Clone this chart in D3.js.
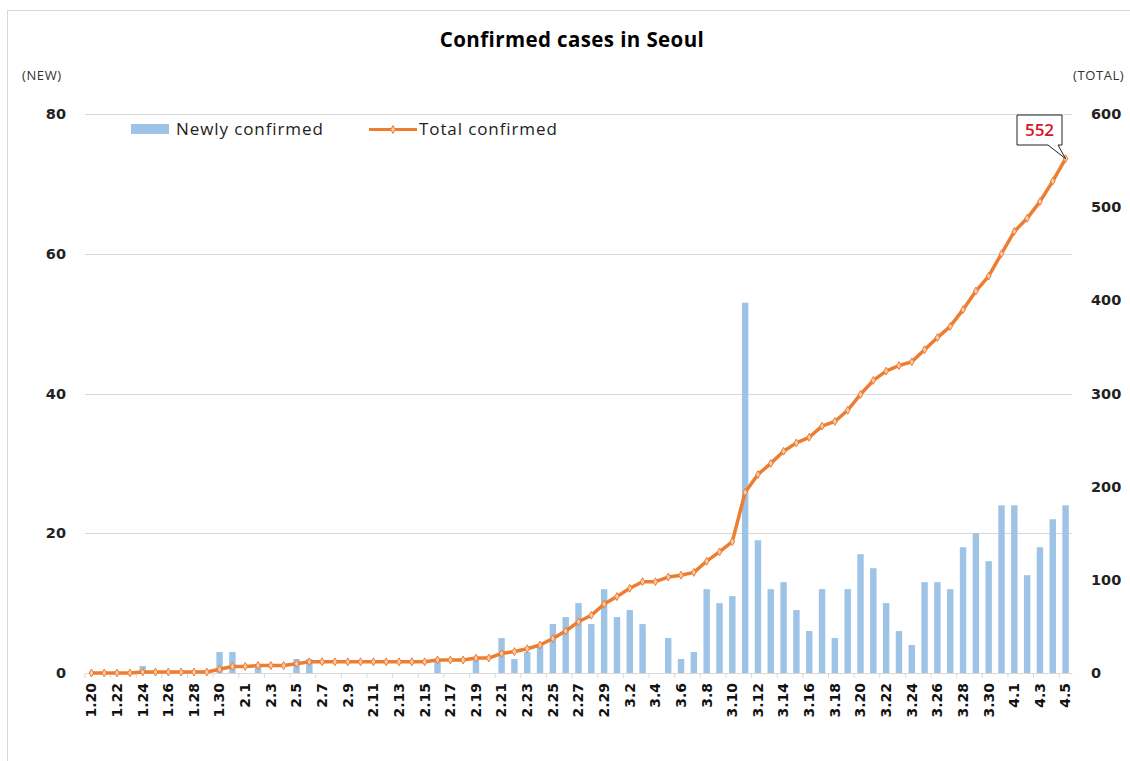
<!DOCTYPE html>
<html>
<head>
<meta charset="UTF-8" />
<title>Confirmed cases in Seoul</title>
<script src="https://cdn.jsdelivr.net/npm/d3@7"></script>
<style>
  body { margin: 0; background: #fff; }
  text { font-family: "Liberation Sans", Arial, sans-serif; }
</style>
</head>
<body>
<svg id="chart"></svg>
<script>
// dates, Jan 20 to Apr 5 2020
var dates = ["1.20","1.21","1.22","1.23","1.24","1.25","1.26","1.27","1.28","1.29","1.30","1.31",
  "2.1","2.2","2.3","2.4","2.5","2.6","2.7","2.8","2.9","2.10","2.11","2.12","2.13","2.14","2.15",
  "2.16","2.17","2.18","2.19","2.20","2.21","2.22","2.23","2.24","2.25","2.26","2.27","2.28","2.29",
  "3.1","3.2","3.3","3.4","3.5","3.6","3.7","3.8","3.9","3.10","3.11","3.12","3.13","3.14","3.15",
  "3.16","3.17","3.18","3.19","3.20","3.21","3.22","3.23","3.24","3.25","3.26","3.27","3.28","3.29",
  "3.30","3.31","4.1","4.2","4.3","4.4","4.5"];

var newCases = [0,0,0,0,1,0,0,0,0,0,3,3,
  0,1,0,0,2,2,0,0,0,0,0,0,0,0,0,
  2,0,0,2,0,5,2,3,4,7,8,10,7,12,
  8,9,7,0,5,2,3,12,10,11,53,19,12,13,9,
  6,12,5,12,17,15,10,6,4,13,13,12,18,20,
  16,24,24,14,18,22,24];

var totalCases = [0,0,0,0,1,1,1,1,1,1,4,7,
  7,8,8,8,10,12,12,12,12,12,12,12,12,12,12,
  14,14,14,16,16,21,23,26,30,37,45,55,62,74,
  82,91,98,98,103,105,108,120,130,141,194,213,225,238,247,
  253,265,270,282,299,314,324,330,334,347,360,372,390,410,
  426,450,474,488,506,528,552];

var leftTicks = [0, 20, 40, 60, 80];
var rightTicks = [0, 100, 200, 300, 400, 500, 600];

var W = 1130, H = 761;
var x0 = 85, x1 = 1072, yTop = 114, yBot = 673;
var barColor = "#9dc3e6", lineColor = "#ed7d31";
var tickFont = "'DejaVu Sans', Verdana, sans-serif";
var textFont = "'Open Sans', sans-serif";

var svg = d3.select("#chart").attr("width", W).attr("height", H);

// outer frame
svg.append("rect").attr("x", 7.5).attr("y", 10.5).attr("width", W).attr("height", H)
  .attr("fill", "none").attr("stroke", "#d9d9d9");

var x = d3.scaleBand().domain(dates).range([x0, x1]).paddingInner(0.5).paddingOuter(0.25);
var yL = d3.scaleLinear().domain([0, 80]).range([yBot, yTop]);
var yR = d3.scaleLinear().domain([0, 600]).range([yBot, yTop]);

// gridlines
svg.append("g").selectAll("line").data(leftTicks.slice(1)).enter().append("line")
  .attr("x1", x0).attr("x2", x1)
  .attr("y1", function(d){ return Math.round(yL(d)) + 0.5; })
  .attr("y2", function(d){ return Math.round(yL(d)) + 0.5; })
  .attr("stroke", "#d9d9d9");

// left axis
var gL = svg.append("g").attr("transform", "translate(66,0)")
  .call(d3.axisLeft(yL).tickValues(leftTicks).tickSize(0).tickPadding(0));
gL.select(".domain").remove();
gL.selectAll("text").attr("font-size", 14.5).attr("font-weight", "bold").attr("fill", "#222")
  .style("font-family", tickFont);

// right axis
var gR = svg.append("g").attr("transform", "translate(1091,0)")
  .call(d3.axisRight(yR).tickValues(rightTicks).tickSize(0).tickPadding(0));
gR.select(".domain").remove();
gR.selectAll("text").attr("font-size", 14.5).attr("font-weight", "bold").attr("fill", "#222")
  .style("font-family", tickFont);

// bars
svg.append("g").selectAll("rect").data(newCases).enter().append("rect")
  .attr("x", function(d, i){ return x(dates[i]); })
  .attr("width", x.bandwidth())
  .attr("y", function(d){ return yL(d); })
  .attr("height", function(d){ return yBot - yL(d); })
  .attr("fill", barColor);

// x axis
var gX = svg.append("g").attr("transform", "translate(0," + yBot + ")")
  .call(d3.axisBottom(x).tickValues(dates.filter(function(d, i){ return i % 2 === 0; }))
    .tickSize(0).tickPadding(0));
gX.select(".domain").attr("stroke", "#d9d9d9");
gX.selectAll("text")
  .attr("transform", "rotate(-90)")
  .attr("x", -10).attr("y", 0).attr("dy", "0.35em")
  .style("text-anchor", "end")
  .style("font-family", tickFont)
  .attr("font-size", 14).attr("font-weight", "bold").attr("fill", "#111");

// small tick marks between every second category
var step = x.step();
svg.append("g").selectAll("line").data(dates.filter(function(d, i){ return i % 2 === 0; })).enter()
  .append("line")
  .attr("x1", function(d){ return x(d) - (step - x.bandwidth()) / 2; })
  .attr("x2", function(d){ return x(d) - (step - x.bandwidth()) / 2; })
  .attr("y1", yBot).attr("y2", yBot + 5)
  .attr("stroke", "#d9d9d9");

// total line
var line = d3.line()
  .x(function(d, i){ return x(dates[i]) + x.bandwidth() / 2; })
  .y(function(d){ return yR(d); });
svg.append("path").datum(totalCases).attr("d", line)
  .attr("fill", "none").attr("stroke", lineColor).attr("stroke-width", 3.5)
  .attr("stroke-linejoin", "round");

svg.append("g").selectAll("path").data(totalCases).enter().append("path")
  .attr("d", d3.symbol().type(d3.symbolDiamond).size(18))
  .attr("transform", function(d, i){
    return "translate(" + (x(dates[i]) + x.bandwidth() / 2) + "," + yR(d) + ")";
  })
  .attr("fill", "#f8cbad").attr("stroke", lineColor).attr("stroke-width", 1);

// title and axis captions
svg.append("text").attr("x", 572).attr("y", 47).attr("text-anchor", "middle")
  .attr("font-size", 20.5).attr("font-weight", "bold").style("letter-spacing", "0.4px")
  .style("font-family", textFont)
  .text("Confirmed cases in Seoul");
svg.append("text").attr("x", 22).attr("y", 80).attr("font-size", 13).style("letter-spacing", "0.6px")
  .style("font-family", textFont).attr("fill", "#333").text("(NEW)");
svg.append("text").attr("x", 1073).attr("y", 80).attr("font-size", 13).style("letter-spacing", "0.6px")
  .style("font-family", textFont).attr("fill", "#333").text("(TOTAL)");

// legend
svg.append("rect").attr("x", 131).attr("y", 124).attr("width", 38).attr("height", 10).attr("fill", barColor);
svg.append("text").attr("x", 176).attr("y", 135).attr("font-size", 17).style("letter-spacing", "0.9px")
  .style("font-family", textFont).attr("fill", "#222").text("Newly confirmed");
svg.append("line").attr("x1", 369).attr("x2", 417).attr("y1", 129.5).attr("y2", 129.5)
  .attr("stroke", lineColor).attr("stroke-width", 3);
svg.append("path").attr("d", d3.symbol().type(d3.symbolDiamond).size(18))
  .attr("transform", "translate(393,129.5)")
  .attr("fill", "#f8cbad").attr("stroke", lineColor);
svg.append("text").attr("x", 419).attr("y", 135).attr("font-size", 17).style("letter-spacing", "0.9px")
  .style("font-family", textFont).attr("fill", "#222").text("Total confirmed");

// callout for last value
var last = totalCases.length - 1;
var px = x(dates[last]) + x.bandwidth() / 2, py = yR(totalCases[last]);
var bx = 1017, by = 115, bw = 45, bh = 30;
svg.append("path")
  .attr("d", "M" + bx + "," + by + "H" + (bx + bw) + "V" + (by + bh) + "H" + (bx + bw - 4) +
    "L" + px + "," + py + "L" + (bx + bw - 14) + "," + (by + bh) + "H" + bx + "Z")
  .attr("fill", "#fff").attr("stroke", "#222").attr("stroke-width", 1);
svg.append("text").attr("x", bx + bw / 2).attr("y", by + 21).attr("text-anchor", "middle")
  .attr("font-size", 17).style("font-family", textFont).attr("font-weight", 600)
  .attr("fill", "#d7142b").text(totalCases[last]);
</script>
</body>
</html>
